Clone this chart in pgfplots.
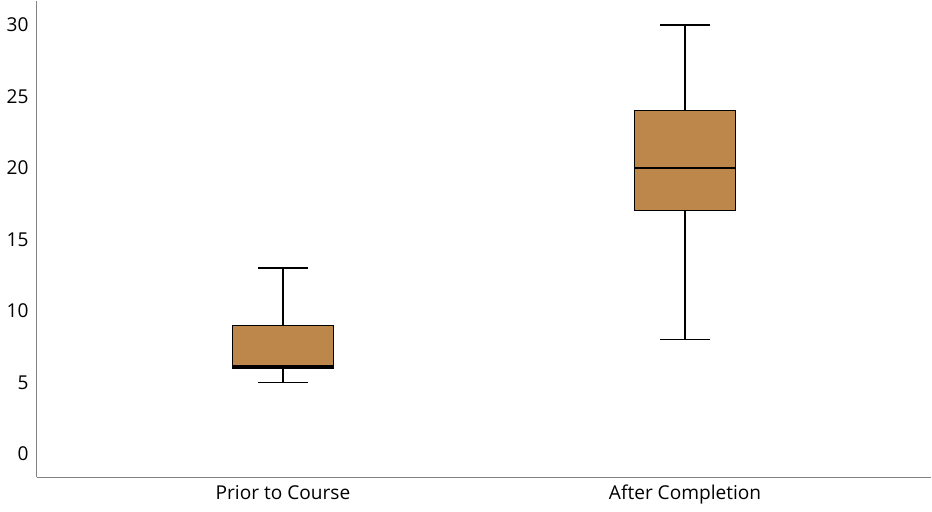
\documentclass[border=0pt]{standalone}
\usepackage{pgfplots}
\pgfplotsset{compat=1.18}
\usepgfplotslibrary{statistics}
\usepackage{fontspec}
\setmainfont{Open Sans}
\definecolor{boxc}{RGB}{189,134,74}
\definecolor{axgray}{RGB}{130,130,130}
\begin{document}
\begin{tikzpicture}
\begin{axis}[
    scale only axis,
    width=445pt, height=237pt,
    xmin=0.3875, xmax=2.6125,
    ymin=-1.62, ymax=31.7,
    axis x line*=bottom, axis y line*=left,
    axis line style={draw=axgray, line width=0.6pt},
    xtick={1,2},
    xticklabels={Prior to Course, After Completion},
    ytick={0,5,...,30},
    major tick length=0pt,
    tick label style={font=\fontsize{9.5}{11}\selectfont},
    /pgf/number format/assume math mode=true,
    yticklabel style={xshift=-0.5pt},
    xticklabel style={yshift=-0.5pt},
    boxplot/draw direction=y,
    boxplot/box extend=0.25,
    boxplot/whisker extend=0.125,
    boxplot/every median/.style={line width=1.3pt},
    boxplot/every whisker/.style={line width=0.8pt},
    boxplot/every box/.style={line width=0.5pt},
]
\addplot+[boxplot prepared={lower whisker=5, lower quartile=6, median=6.1,
    upper quartile=9, upper whisker=13, draw position=1},
    mark=none, solid, fill=boxc, draw=black] coordinates {};
\addplot+[boxplot prepared={lower whisker=8, lower quartile=17, median=20,
    upper quartile=24, upper whisker=30, draw position=2},
    mark=none, solid, fill=boxc, draw=black] coordinates {};
\end{axis}
\end{tikzpicture}
\end{document}
